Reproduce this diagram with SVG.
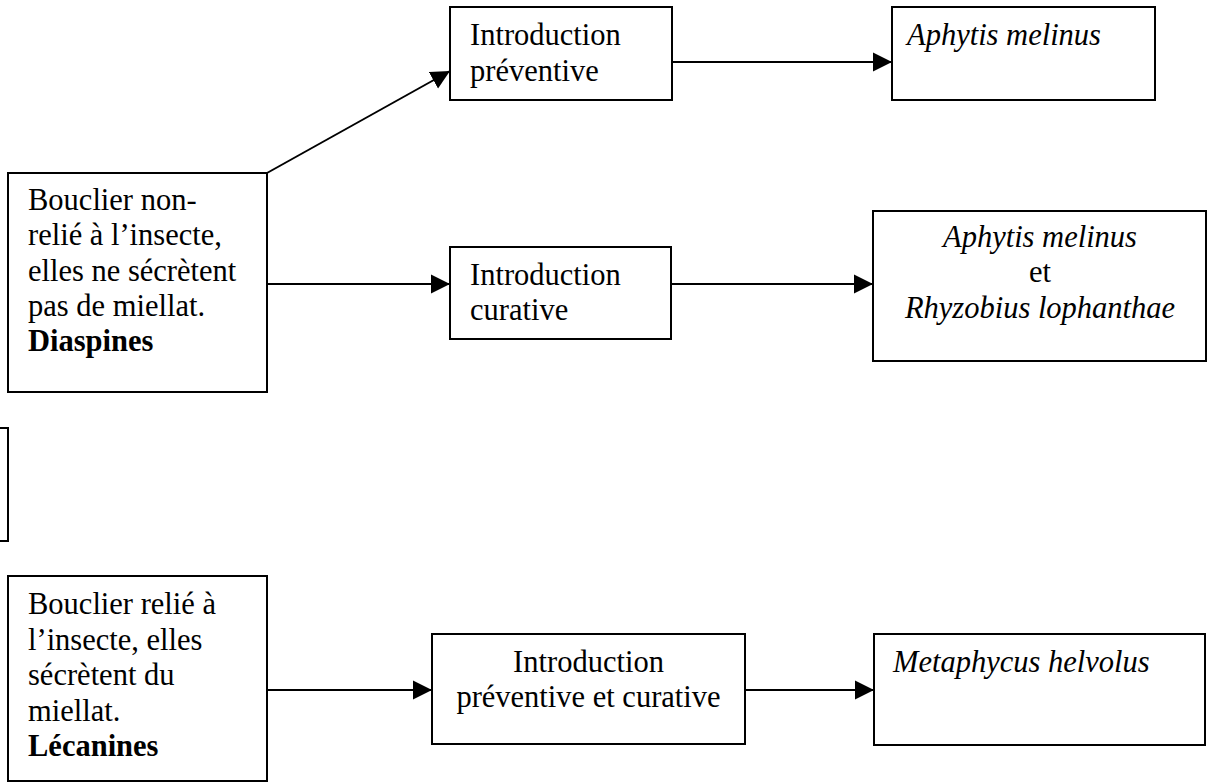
<svg xmlns="http://www.w3.org/2000/svg" width="1207" height="782" viewBox="0 0 1207 782">
<style>
.box{fill:#fff;stroke:#000;stroke-width:2}
.t{font-family:"Liberation Serif","Times New Roman",serif;font-size:30.5px;fill:#000}
.i{font-style:italic}
.b{font-weight:bold}
.c{text-anchor:middle}
.con{stroke:#000;stroke-width:2;fill:none;marker-end:url(#ah)}
</style>
<defs>
<marker id="ah" markerUnits="userSpaceOnUse" markerWidth="20" markerHeight="20" viewBox="0 0 20 20" refX="19" refY="10" orient="auto">
<path d="M0,0.5 L19,10 L0,19.5 Z" fill="#000"/>
</marker>
</defs>
<rect width="1207" height="782" fill="#fff"/>
<g id="connectors">
<line class="con" x1="267" y1="173" x2="450" y2="71"/>
<line class="con" x1="672" y1="62" x2="892" y2="62"/>
<line class="con" x1="267" y1="284" x2="450" y2="284"/>
<line class="con" x1="671" y1="284" x2="873" y2="284"/>
<line class="con" x1="267" y1="690" x2="432" y2="690"/>
<line class="con" x1="745" y1="690" x2="874" y2="690"/>
</g>
<g id="diaspines">
<rect class="box" x="8" y="173" width="259" height="219"/>
<text class="t" x="28" y="210">Bouclier non-</text>
<text class="t" x="28" y="245.3">relié à l’insecte,</text>
<text class="t" x="28" y="280.6">elles ne sécrètent</text>
<text class="t" x="28" y="316">pas de miellat.</text>
<text class="t b" x="28" y="351">Diaspines</text>
</g>
<g id="partial">
<rect class="box" x="-20" y="428" width="28" height="113"/>
</g>
<g id="lecanines">
<rect class="box" x="8" y="576" width="259" height="205"/>
<text class="t" x="28" y="614">Bouclier relié à</text>
<text class="t" x="28" y="649.5">l’insecte, elles</text>
<text class="t" x="28" y="685">sécrètent du</text>
<text class="t" x="28" y="720.5">miellat.</text>
<text class="t b" x="28" y="756">Lécanines</text>
</g>
<g id="intro-preventive">
<rect class="box" x="450" y="7" width="222" height="93"/>
<text class="t" x="470" y="45">Introduction</text>
<text class="t" x="470" y="81">préventive</text>
</g>
<g id="aphytis">
<rect class="box" x="892" y="7" width="263" height="93"/>
<text class="t i" x="907" y="45">Aphytis melinus</text>
</g>
<g id="intro-curative">
<rect class="box" x="450" y="247" width="221" height="92"/>
<text class="t" x="470" y="285">Introduction</text>
<text class="t" x="470" y="320">curative</text>
</g>
<g id="aphytis-rhyzobius">
<rect class="box" x="873" y="211" width="333" height="150"/>
<text class="t i c" x="1040" y="247">Aphytis melinus</text>
<text class="t c" x="1040" y="282">et</text>
<text class="t i c" x="1040" y="318">Rhyzobius lophanthae</text>
</g>
<g id="intro-prev-cur">
<rect class="box" x="432" y="634" width="313" height="110"/>
<text class="t c" x="588.5" y="672">Introduction</text>
<text class="t c" x="588.5" y="707">préventive et curative</text>
</g>
<g id="metaphycus">
<rect class="box" x="874" y="634" width="331" height="111"/>
<text class="t i" x="893" y="672">Metaphycus helvolus</text>
</g>
</svg>
